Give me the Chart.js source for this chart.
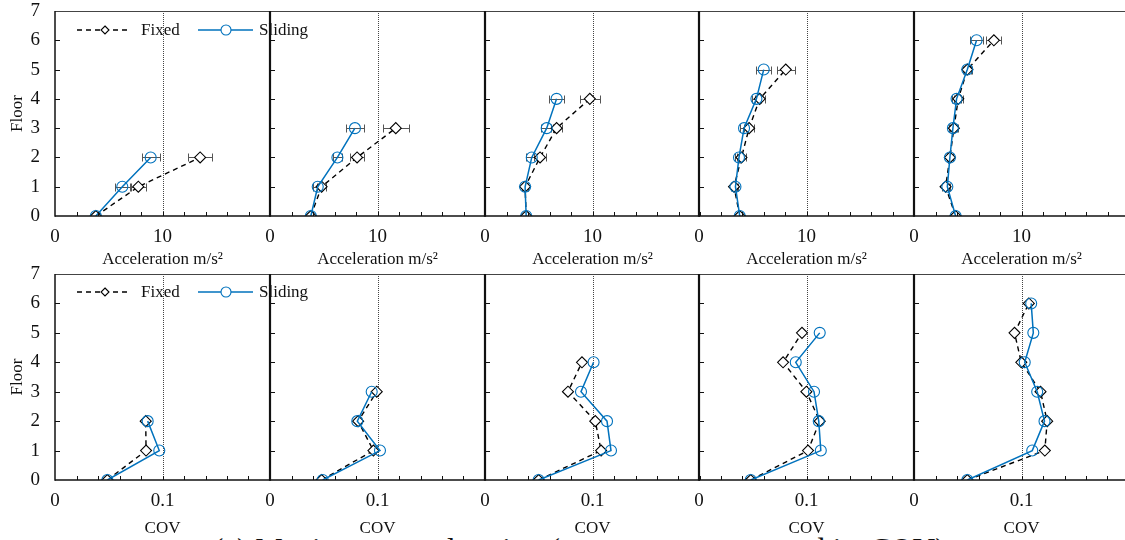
<!DOCTYPE html>
<html><head><meta charset="utf-8">
<script src="https://cdn.jsdelivr.net/npm/chart.js@4.4.0/dist/chart.umd.min.js"></script>
<style>
html,body{margin:0;padding:0;background:#fff;}
#wrap{position:relative;width:1125px;height:540px;overflow:hidden;background:#fff;font-family:'Liberation Serif','Times New Roman',serif;}
canvas{position:absolute;}
#caption{position:absolute;left:213px;top:534px;font-size:31px;line-height:31px;white-space:nowrap;color:#111;}
</style></head><body>
<div id="wrap"><div id="caption">(a) Maximum acceleration (average response and its COV)</div></div>
<script>
// ---------- data ----------
const floors = [0, 1, 2, 3, 4, 5, 6];
const seriesNames = ['Fixed', 'Sliding'];
const accTickValues = [0, 10];
const accTickLabels = ['0', '10'];
const covTickValues = [0, 0.1];
const covTickLabels = ['0', '0.1'];
const floorTickLabels = ['0', '1', '2', '3', '4', '5', '6', '7'];

// maximum acceleration (m/s^2), mean per floor
const fixedAcc1 = [3.8, 7.75, 13.5];
const fixedAcc2 = [3.8, 4.8, 8.1, 11.7];
const fixedAcc3 = [3.83, 3.73, 5.12, 6.66, 9.75];
const fixedAcc4 = [3.79, 3.26, 3.95, 4.66, 5.65, 8.07];
const fixedAcc5 = [3.87, 2.94, 3.34, 3.71, 4.12, 4.96, 7.43];
const slidingAcc1 = [3.8, 6.26, 8.9];
const slidingAcc2 = [3.8, 4.44, 6.27, 7.9];
const slidingAcc3 = [3.83, 3.73, 4.35, 5.74, 6.66];
const slidingAcc4 = [3.79, 3.39, 3.72, 4.19, 5.34, 6.02];
const slidingAcc5 = [3.87, 3.1, 3.34, 3.62, 3.96, 4.96, 5.82];
// error bar half widths
const fixedErr1 = [0, 0.7, 1.15];
const fixedErr2 = [0, 0.4, 0.65, 1.2];
const fixedErr3 = [0, 0.3, 0.55, 0.5, 0.93];
const fixedErr4 = [0, 0.25, 0.4, 0.45, 0.45, 0.82];
const fixedErr5 = [0, 0.3, 0.3, 0.35, 0.4, 0.35, 0.7];
const slidingErr1 = [0, 0.7, 0.85];
const slidingErr2 = [0, 0.4, 0.45, 0.8];
const slidingErr3 = [0, 0.3, 0.5, 0.55, 0.7];
const slidingErr4 = [0, 0.25, 0.35, 0.4, 0.45, 0.7];
const slidingErr5 = [0, 0.25, 0.3, 0.35, 0.4, 0.4, 0.62];
// COV
const fixedCov1 = [0.0487, 0.0847, 0.0844];
const fixedCov2 = [0.048, 0.0962, 0.082, 0.0993];
const fixedCov3 = [0.0499, 0.108, 0.1026, 0.0772, 0.0902];
const fixedCov4 = [0.0481, 0.1014, 0.1123, 0.0999, 0.0782, 0.0958];
const fixedCov5 = [0.0496, 0.1217, 0.1239, 0.1177, 0.0998, 0.0935, 0.1068];
const slidingCov1 = [0.0487, 0.097, 0.0862];
const slidingCov2 = [0.049, 0.1023, 0.0812, 0.0946];
const slidingCov3 = [0.0499, 0.1172, 0.1135, 0.0893, 0.101];
const slidingCov4 = [0.0481, 0.1133, 0.1114, 0.107, 0.09, 0.1123];
const slidingCov5 = [0.0496, 0.11, 0.1214, 0.1146, 0.103, 0.111, 0.109];

// ---------- layout ----------
Chart.defaults.font.family = "'Liberation Serif','Times New Roman',serif";
Chart.defaults.color = '#111';

const panelLefts = [55, 270, 485, 699, 914];
const PLOT_W = 215, Y_W = 55, PAD_TOP = 11, PAD_RIGHT = 50, X_H = 60;
const BLUE = '#0072BD';

const rows = [
  { top: 11, bottom: 216, xMax: 20, step: 10, minor: 2, ref: 10,
    tv: accTickValues, tl: accTickLabels, title: 'Acceleration m/s\u00B2', titlePad: 6,
    fixed: [fixedAcc1, fixedAcc2, fixedAcc3, fixedAcc4, fixedAcc5],
    sliding: [slidingAcc1, slidingAcc2, slidingAcc3, slidingAcc4, slidingAcc5],
    fErr: [fixedErr1, fixedErr2, fixedErr3, fixedErr4, fixedErr5],
    sErr: [slidingErr1, slidingErr2, slidingErr3, slidingErr4, slidingErr5] },
  { top: 274, bottom: 480, xMax: 0.2, step: 0.1, minor: 0.02, ref: 0.1,
    tv: covTickValues, tl: covTickLabels, title: 'COV', titlePad: 1,
    fixed: [fixedCov1, fixedCov2, fixedCov3, fixedCov4, fixedCov5],
    sliding: [slidingCov1, slidingCov2, slidingCov3, slidingCov4, slidingCov5],
    fErr: null, sErr: null }
];

function diamond(ctx, x, y, r) {
  ctx.beginPath();
  ctx.moveTo(x, y - r); ctx.lineTo(x + r, y); ctx.lineTo(x, y + r); ctx.lineTo(x - r, y); ctx.closePath();
}

const framePlugin = {
  id: 'frame',
  beforeDatasetsDraw(chart) {
    const o = chart.options.plugins.frame;
    const ctx = chart.ctx, a = chart.chartArea, sx = chart.scales.x, sy = chart.scales.y;
    ctx.save();
    // reference dotted line
    const rx = Math.round(sx.getPixelForValue(o.ref)) + 0.5;
    ctx.strokeStyle = '#444'; ctx.lineWidth = 1; ctx.setLineDash([1, 1]);
    ctx.beginPath(); ctx.moveTo(rx, a.top); ctx.lineTo(rx, a.bottom); ctx.stroke();
    ctx.setLineDash([]);
    // error bars
    if (o.errs) {
      ctx.strokeStyle = '#555'; ctx.lineWidth = 1;
      o.errs.forEach(({vals, errs}) => {
        vals.forEach((v, i) => {
          const e = errs[i];
          if (!e) return;
          const y = Math.round(sy.getPixelForValue(floors[i])) + 0.5;
          const x1 = Math.round(sx.getPixelForValue(v - e)) + 0.5, x2 = Math.round(sx.getPixelForValue(v + e)) + 0.5;
          ctx.beginPath();
          ctx.moveTo(x1, y); ctx.lineTo(x2, y);
          ctx.moveTo(x1, y - 4); ctx.lineTo(x1, y + 4);
          ctx.moveTo(x2, y - 4); ctx.lineTo(x2, y + 4);
          ctx.stroke();
        });
      });
    }
    ctx.restore();
  },
  afterDatasetsDraw(chart) {
    const o = chart.options.plugins.frame;
    const ctx = chart.ctx, a = chart.chartArea, sx = chart.scales.x, sy = chart.scales.y;
    ctx.save();
    const rightEnd = o.last ? chart.width : a.right;
    // top border
    ctx.strokeStyle = '#444'; ctx.lineWidth = 1;
    ctx.beginPath(); ctx.moveTo(a.left, Math.round(a.top) + 0.5); ctx.lineTo(rightEnd, Math.round(a.top) + 0.5); ctx.stroke();
    // x minor ticks
    ctx.strokeStyle = '#111'; ctx.lineWidth = 1;
    const n = Math.round(o.xMax / o.minor);
    ctx.beginPath();
    for (let i = 1; i <= n; i++) {
      const x = Math.round(sx.getPixelForValue(i * o.minor)) + 0.5;
      ctx.moveTo(x, a.bottom); ctx.lineTo(x, a.bottom - 4);
    }
    // y ticks
    for (let f = 1; f < 7; f++) {
      const y = Math.round(sy.getPixelForValue(f)) + 0.5;
      ctx.moveTo(a.left, y); ctx.lineTo(a.left + 5, y);
    }
    ctx.stroke();
    // bottom axis
    ctx.lineWidth = 1.5;
    ctx.beginPath(); ctx.moveTo(a.left, a.bottom); ctx.lineTo(rightEnd, a.bottom); ctx.stroke();
    // left axis
    ctx.lineWidth = o.first ? 1.5 : 2.2;
    ctx.beginPath(); ctx.moveTo(a.left, a.top); ctx.lineTo(a.left, a.bottom + 0.75); ctx.stroke();
    // legend
    if (o.first) {
      const y = a.top + o.legendDy, L = a.left;
      ctx.lineWidth = 1.5; ctx.strokeStyle = '#000'; ctx.setLineDash([5, 4]);
      ctx.beginPath(); ctx.moveTo(L + 22, y); ctx.lineTo(L + 73, y); ctx.stroke();
      ctx.setLineDash([]);
      ctx.fillStyle = '#fff'; ctx.lineWidth = 1.1;
      diamond(ctx, L + 50, y, 4); ctx.fill(); ctx.stroke();
      ctx.strokeStyle = BLUE; ctx.lineWidth = 1.5;
      ctx.beginPath(); ctx.moveTo(L + 143, y); ctx.lineTo(L + 198, y); ctx.stroke();
      ctx.fillStyle = '#fff'; ctx.lineWidth = 1.1;
      ctx.beginPath(); ctx.arc(L + 171, y, 5, 0, Math.PI * 2); ctx.fill(); ctx.stroke();
      ctx.fillStyle = '#111'; ctx.font = "17px 'Liberation Serif'"; ctx.textBaseline = 'middle'; ctx.textAlign = 'left';
      ctx.fillText(seriesNames[0], L + 86, y + 1);
      ctx.fillText(seriesNames[1], L + 204, y + 1);
    }
    ctx.restore();
  }
};

const wrap = document.getElementById('wrap');
rows.forEach((row, r) => {
  panelLefts.forEach((L, k) => {
    const cv = document.createElement('canvas');
    const W = Y_W + PLOT_W + PAD_RIGHT;
    const H = PAD_TOP + (row.bottom - row.top) + X_H;
    cv.width = W; cv.height = H;
    cv.style.left = (L - Y_W) + 'px';
    cv.style.top = (row.top - PAD_TOP) + 'px';
    cv.style.width = W + 'px'; cv.style.height = H + 'px';
    wrap.appendChild(cv);
    const fx = row.fixed[k], sl = row.sliding[k];
    const errs = row.fErr ? [{vals: fx, errs: row.fErr[k]}, {vals: sl, errs: row.sErr[k]}] : null;
    new Chart(cv, {
      type: 'scatter',
      data: {
        datasets: [
          { label: seriesNames[1], data: sl.map((v, i) => ({x: v, y: floors[i]})), showLine: true,
            borderColor: BLUE, borderWidth: 1.5, pointStyle: 'circle', pointRadius: 5.5,
            pointBorderColor: BLUE, pointBackgroundColor: 'rgba(255,255,255,0)', pointBorderWidth: 1.1 },
          { label: seriesNames[0], data: fx.map((v, i) => ({x: v, y: floors[i]})), showLine: true,
            borderColor: '#000', borderWidth: 1.4, borderDash: [5, 4], pointStyle: 'rectRot', pointRadius: 5.5,
            pointBorderColor: '#000', pointBackgroundColor: '#fff', pointBorderWidth: 1.1 }
        ]
      },
      options: {
        responsive: false, animation: false, events: [],
        layout: { padding: { top: PAD_TOP, right: PAD_RIGHT, left: 0, bottom: 0 } },
        plugins: { legend: { display: false }, tooltip: { enabled: false },
          frame: { ref: row.ref, xMax: row.xMax, minor: row.minor, errs: errs, first: k === 0, last: k === 4, legendDy: r === 0 ? 19 : 18 } },
        scales: {
          x: { type: 'linear', min: 0, max: row.xMax,
            grid: { display: false, drawTicks: false }, border: { display: false },
            ticks: { stepSize: row.step, padding: 10, font: { size: 19 }, color: '#111', maxRotation: 0,
              callback: (v) => { const i = row.tv.findIndex(t => Math.abs(t - v) < 1e-9); return i >= 0 ? row.tl[i] : ''; } },
            title: { display: true, text: row.title, font: { size: 17 }, color: '#111', padding: { top: 0, bottom: row.titlePad } },
            afterFit: (s) => { s.height = X_H; s.paddingLeft = 0; s.paddingRight = 0; } },
          y: { type: 'linear', min: 0, max: 7,
            grid: { display: false, drawTicks: false }, border: { display: false },
            ticks: { display: k === 0, stepSize: 1, padding: 15, font: { size: 19 }, color: '#111',
              callback: (v) => floorTickLabels[Math.round(v)] },
            title: { display: k === 0, text: 'Floor', font: { size: 17 }, color: '#111', padding: { top: 7, bottom: 0 } },
            afterFit: (s) => { s.width = Y_W; s.paddingTop = 0; s.paddingBottom = 0; } }
        }
      },
      plugins: [framePlugin]
    });
  });
});
</script>
</body></html>
